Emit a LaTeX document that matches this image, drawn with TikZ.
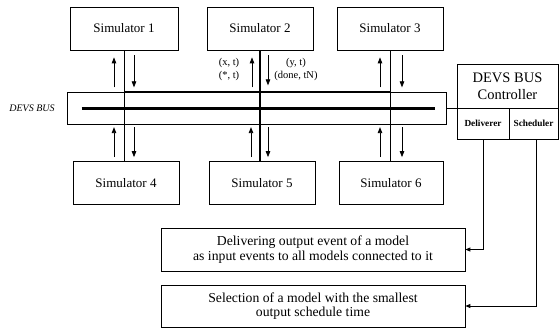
\documentclass[tikz,border=0pt]{standalone}
\usepackage{fontspec}
\setmainfont{Liberation Serif}
\usetikzlibrary{arrows.meta,calc}
\begin{document}
\begin{tikzpicture}[x=1pt,y=-1pt,
  sim/.style={draw,line width=0.7pt,minimum width=106pt,minimum height=43pt,inner sep=0pt,font=\fontsize{13}{14}\selectfont},
  box/.style={draw,line width=0.7pt,inner sep=0pt,align=center},
  vline/.style={line width=1pt},
  arr/.style={line width=0.8pt,-{Triangle[length=6pt,width=4.5pt]}},
  conn/.style={line width=0.8pt,-{Triangle[length=5pt,width=4pt]}},
  lbl/.style={inner sep=0pt,align=center,font=\fontsize{10.5}{13}\selectfont},
  cell/.style={draw,line width=0.7pt,inner sep=0pt,minimum height=31pt,font=\bfseries\fontsize{9.3}{11}\selectfont}
]
\useasboundingbox (0,0) rectangle (559,331);

% simulators
\node[sim,minimum width=108pt] (s1) at (124,28.5) {Simulator 1};
\node[sim] (s2) at (260,28.5) {Simulator 2};
\node[sim] (s3) at (390,28.5) {Simulator 3};
\node[sim] (s4) at (126,183) {Simulator 4};
\node[sim] (s5) at (262,183) {Simulator 5};
\node[sim,minimum width=104pt] (s6) at (391,183) {Simulator 6};

% bus
\node[box,minimum width=379pt,minimum height=32pt] (bus) at (256.5,108.5) {};
\node[inner sep=0pt,font=\itshape\fontsize{10}{12}\selectfont] (buslabel) at (32,108) {DEVS BUS};

% controller
\node[box,minimum width=101pt,minimum height=44pt,font=\fontsize{14.5}{17}\selectfont] (ctrl) at (507.5,86) {DEVS BUS\\Controller};
\node[cell,minimum width=52pt] (deliv) at (483,123.5) {Deliverer};
\node[cell,minimum width=49pt] (sched) at (533.5,123.5) {Scheduler};

% description boxes
\node[box,minimum width=304pt,minimum height=43pt,font=\fontsize{13.7}{14.5}\selectfont] (dbox) at (313,249.5) {Delivering output event of a model\\as input events to all models connected to it};
\node[box,minimum width=304pt,minimum height=42pt,font=\fontsize{13.7}{14.5}\selectfont] (sbox) at (313,306) {Selection of a model with the smallest\\output schedule time};

% bus lines
\draw[line width=1.8pt] (s1.south |- bus.north) -- (s3.south |- bus.north);
\draw[line width=1.3pt] (s1.south |- bus.south) -- (s3.south |- bus.south);
\draw[line width=2.3pt] ($(bus.west)+(15,0)$) -- ($(bus.east)+(-11,0)$);
\draw[line width=0.6pt] (bus.east) -- (bus.east -| ctrl.west);

% vertical lines
\draw[vline] (s1.south) -- (s1.south |- s4.north);
\draw[vline,line width=1.2pt] (s2.south) -- (s2.south |- s5.north);
\draw[vline] (s3.south) -- (s3.south |- s6.north);

% arrows sim 1
\coordinate (a1) at (s1.south);
\coordinate (b1) at (s1.south |- s4.north);
\draw[arr] ($(a1)+(-10,37)$) -- ($(a1)+(-10,7)$);
\draw[arr] ($(a1)+(10,5)$) -- ($(a1)+(10,37)$);
\draw[arr] ($(b1)+(-10,-4)$) -- ($(b1)+(-10,-34)$);
\draw[arr] ($(b1)+(10,-34)$) -- ($(b1)+(10,-4)$);
% arrows sim 2
\coordinate (a2) at (s2.south);
\coordinate (b2) at (s2.south |- s5.north);
\draw[arr] ($(a2)+(-8,37)$) -- ($(a2)+(-8,7)$);
\draw[arr] ($(a2)+(8,5)$) -- ($(a2)+(8,35)$);
\draw[arr] ($(b2)+(-9,-4)$) -- ($(b2)+(-9,-34)$);
\draw[arr] ($(b2)+(8,-34)$) -- ($(b2)+(8,-4)$);
% arrows sim 3
\coordinate (a3) at (s3.south);
\coordinate (b3) at (s3.south |- s6.north);
\draw[arr] ($(a3)+(-10,37)$) -- ($(a3)+(-10,7)$);
\draw[arr] ($(a3)+(12,5)$) -- ($(a3)+(12,37)$);
\draw[arr] ($(b3)+(-10,-4)$) -- ($(b3)+(-10,-34)$);
\draw[arr] ($(b3)+(12,-34)$) -- ($(b3)+(12,-4)$);

% message labels
\node[lbl] (inlbl) at (229,69.5) {(x, t)\\(*, t)};
\node[lbl] (outlbl) at (296,69.5) {(y, t)\\(done, tN)};

% controller to descriptions
\draw[conn] (deliv.south) |- (dbox.east);
\draw[conn] ([xshift=3pt]sched.south) |- (sbox.east);
\end{tikzpicture}
\end{document}
